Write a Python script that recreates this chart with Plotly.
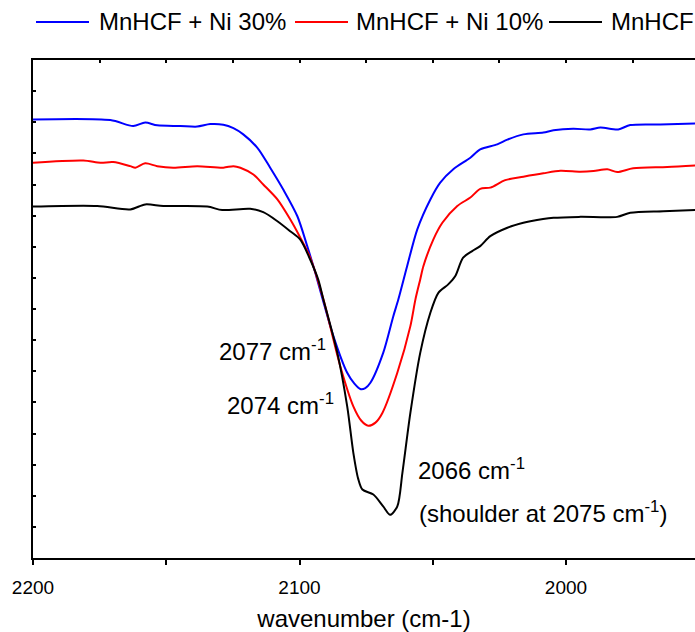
import plotly.graph_objects as go

# ---- data ----
wn_ni30 = [2200, 2171.0, 2162.4, 2157.9, 2153.4, 2144.7, 2138.4, 2133.5, 2128.6, 2124.8,
           2121.1, 2115.8, 2111.0, 2106.1, 2100.8, 2097.1, 2094.1, 2091.5, 2087.3,
           2082.1, 2079.4, 2077.2, 2075.3, 2073.4, 2068.6, 2064.8, 2062.9, 2059.6, 2055.8,
           2050.9, 2047.2,
           2042.3, 2035.9, 2032.2, 2025.8, 2022.0, 2016.0, 2008.5, 2004.7, 1997.3, 1990.9,
           1987.1, 1980.4, 1975.9, 1964.6, 1951.5]
t_ni30 = [14.09, 14.07, 13.88, 13.99, 13.90, 13.88, 13.86, 13.94, 13.92, 13.81,
          13.61, 13.18, 12.54, 11.84, 10.98, 10.02, 9.17, 8.37, 7.13,
          5.95, 5.60, 5.43, 5.46, 5.63, 6.59, 7.77, 8.31, 9.38, 10.56,
          11.52, 12.06,
          12.49, 12.86, 13.13, 13.29, 13.44, 13.61, 13.67, 13.74, 13.79, 13.77,
          13.83, 13.77, 13.91, 13.93, 13.96]

wn_ni10 = [2200, 2181.1, 2174.7, 2169.9, 2163.5, 2161.6, 2157.9, 2153.4, 2147.4, 2138.4,
           2128.6, 2124.8, 2122.2, 2117.3, 2113.6, 2108.3, 2103.5, 2099.7, 2096.0,
           2091.1, 2084.7, 2079.8, 2076.8, 2074.2, 2071.5, 2068.9, 2063.3, 2058.4, 2056.5,
           2054.7, 2053.5,
           2049.8, 2046.4, 2040.8, 2035.9, 2032.2, 2028.4, 2022.8, 2016.0, 2008.5, 2002.1,
           1994.6, 1989.7, 1984.5, 1980.8, 1974.8, 1962.0, 1951.5]
t_ni10 = [12.70, 12.77, 12.70, 12.72, 12.59, 12.54, 12.68, 12.59, 12.54, 12.59,
          12.54, 12.59, 12.54, 12.32, 12.00, 11.52, 10.88, 10.29, 9.65,
          8.33, 6.16, 4.87, 4.41, 4.25, 4.35, 4.66, 5.95, 7.45, 8.31,
          8.95, 9.38,
          10.23, 10.77, 11.31, 11.58, 11.86, 11.90, 12.14, 12.25, 12.36, 12.44,
          12.41, 12.43, 12.49, 12.40, 12.52, 12.56, 12.61]

wn_mn = [2200, 2175.9, 2163.5, 2157.9, 2151.1, 2134.6, 2129.0, 2118.5, 2113.6, 2108.3,
         2103.5, 2099.7, 2096.0, 2093.0, 2091.1, 2085.8, 2082.1, 2079.8, 2078.0, 2076.4,
         2072.3, 2068.6, 2066.0, 2063.3, 2061.4, 2058.4, 2054.7, 2050.9, 2047.9, 2044.2,
         2041.6, 2038.6, 2035.2, 2032.2, 2028.4, 2022.0, 2016.0, 2013.4, 2004.7, 1994.6,
         1980.8, 1975.9, 1963.5, 1951.5]
t_mn = [11.29, 11.31, 11.20, 11.36, 11.31, 11.29, 11.18, 11.22, 11.11, 10.82,
        10.50, 10.23, 9.59, 8.95, 8.33, 6.59, 4.87, 3.38, 2.55, 2.20,
        2.04, 1.66, 1.39, 1.66, 2.73, 4.66, 6.59, 7.88, 8.52, 8.79,
        9.05, 9.65, 9.86, 10.02, 10.34, 10.61, 10.77, 10.82, 10.93, 10.96,
        10.96, 11.09, 11.14, 11.18]

series_names = ["MnHCF + Ni 30%", "MnHCF + Ni 10%", "MnHCF"]
series_colors = ["#0000ff", "#ff0000", "#000000"]
series_x = [wn_ni30, wn_ni10, wn_mn]
series_y = [t_ni30, t_ni10, t_mn]

peak_labels = ["2077 cm<sup>-1</sup>", "2074 cm<sup>-1</sup>", "2066 cm<sup>-1</sup>",
               "(shoulder at 2075 cm<sup>-1</sup>)"]

x_range = [2200, 1951.6]
y_range = [0, 16]
x_tick_vals = [2200, 2150, 2100, 2050, 2000, 1950]
x_tick_text = ["2200", "", "2100", "", "2000", ""]
top_tick_vals = [2200, 2175, 2150, 2125, 2100, 2075, 2050, 2025, 2000, 1975, 1950]

# ---- layout geometry ----
W, H = 695, 632
ML, MR, MT, MB = 33, 0, 60, 74
PW, PH = W - ML - MR, H - MT - MB
FONT = "Liberation Sans, Arial, sans-serif"


def px_x(px):
    return (px - ML) / PW


def px_y(py):
    return (H - MB - py) / PH


fig = go.Figure()
for name, col, xs, ys in zip(series_names, series_colors, series_x, series_y):
    fig.add_trace(go.Scatter(x=xs, y=ys, mode="lines", name=name,
                             line=dict(color=col, width=2, shape="spline", smoothing=0.8),
                             showlegend=False))
# empty trace to activate the top axis
fig.add_trace(go.Scatter(x=[], y=[], xaxis="x2", yaxis="y", showlegend=False, hoverinfo="skip"))

# custom legend (line + text)
leg_line_x = [36, 295, 549]
leg_text_x = [97, 354, 609]
leg_y = 22
for name, col, lx, tx in zip(series_names, series_colors, leg_line_x, leg_text_x):
    fig.add_shape(type="line", xref="paper", yref="paper",
                  x0=px_x(lx), x1=px_x(lx + 53), y0=px_y(leg_y), y1=px_y(leg_y),
                  line=dict(color=col, width=2))
    fig.add_annotation(text=name, xref="paper", yref="paper", x=px_x(tx), y=px_y(leg_y),
                       xanchor="left", yanchor="middle", showarrow=False,
                       font=dict(size=24, color="black", family=FONT))

# peak annotations (pixel positions of the label boxes)
ann_pos = [(217, 350), (225, 404), (416, 469), (417, 512)]
for txt, (ax, ay) in zip(peak_labels, ann_pos):
    fig.add_annotation(text=txt, xref="paper", yref="paper", x=px_x(ax), y=px_y(ay),
                       xanchor="left", yanchor="middle", showarrow=False,
                       font=dict(size=24, color="black", family=FONT))

fig.update_layout(
    width=W, height=H,
    margin=dict(l=ML, r=MR, t=MT, b=MB, pad=0),
    paper_bgcolor="white", plot_bgcolor="white",
    font=dict(family=FONT, color="black"),
    xaxis=dict(range=x_range, tickmode="array", tickvals=x_tick_vals, ticktext=x_tick_text,
               ticks="outside", ticklen=5, tickwidth=1.5, tickcolor="black",
               ticklabelstandoff=6,
               showline=True, linecolor="black", linewidth=1.5,
               showgrid=False, zeroline=False,
               tickfont=dict(size=19, family=FONT, color="black"),
               title=dict(text="wavenumber (cm-1)", font=dict(size=24, family=FONT, color="black"),
                          standoff=14)),
    xaxis2=dict(range=x_range, overlaying="x", side="top", tickmode="array",
                tickvals=top_tick_vals, ticks="inside", ticklen=3, tickwidth=1.5,
                tickcolor="black", showline=True, linecolor="black", linewidth=1.5,
                showticklabels=False, showgrid=False, zeroline=False),
    yaxis=dict(range=y_range, dtick=1, ticks="inside", ticklen=3, tickwidth=1.5,
               tickcolor="black", showline=True, linecolor="black", linewidth=1.5,
               showticklabels=False, showgrid=False, zeroline=False),
)

fig.write_html("out.html")
